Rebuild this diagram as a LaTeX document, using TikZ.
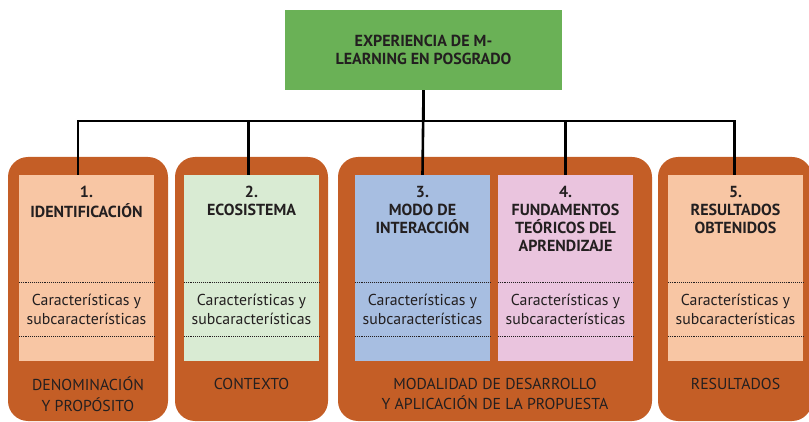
\documentclass[tikz,border=0pt]{standalone}
\usepackage{fontspec}
\setmainfont{PT Sans}
\usetikzlibrary{positioning}
\definecolor{rust}{RGB}{196,94,38}
\definecolor{peach}{RGB}{248,198,164}
\definecolor{mint}{RGB}{217,235,211}
\definecolor{softblue}{RGB}{167,190,225}
\definecolor{softpink}{RGB}{234,196,222}
\definecolor{leafgreen}{RGB}{106,177,86}
\definecolor{ink}{RGB}{35,31,32}
\tikzset{outerbox/.style={fill=rust, rounded corners=20pt},
innerbox/.style={rectangle, minimum width=135pt, minimum height=186pt, inner sep=0pt},
headbox/.style={rectangle, fill=leafgreen, minimum width=277pt, minimum height=80pt, align=center, text=ink, font=\fontsize{16}{18}\selectfont\bfseries}}

\begin{document}
\begin{tikzpicture}[
        x=1pt, y=-1pt,
        titletext/.style={inner sep=0pt, align=center, text=ink, font=\fontsize{16}{18}\selectfont\bfseries},
        bodytext/.style={inner sep=0pt, align=center, text=ink, font=\fontsize{15.8}{19}\selectfont},
        foottext/.style={inner sep=0pt, align=center, text=ink, anchor=north, font=\fontsize{15.8}{18}\selectfont},
        sepline/.style={ink, densely dotted, line width=0.9pt},
        link/.style={black, line width=2.6pt}
    ]
        \useasboundingbox (0,0) rectangle (809,422);
        % Groups
        \fill[outerbox] (8,157) rectangle (168,421);
        \fill[outerbox] (175,157) rectangle (328,421);
        \fill[outerbox] (338,157) rectangle (652,421);
        \fill[outerbox] (658,157) rectangle (812,421);
        % Head
        \node[headbox] (top) at (423.5,50) {EXPERIENCIA DE M-\\LEARNING EN POSGRADO};
        % Columns
        \node[innerbox, fill=peach] (t1) at (86.5,268) {};
        \node[innerbox, fill=mint] (t2) at (251.5,268) {};
        \node[innerbox, fill=softblue] (t3) at (422.5,268) {};
        \node[innerbox, fill=softpink] (t4) at (565.5,268) {};
        \node[innerbox, fill=peach] (t5) at (735.5,268) {};
        % Column titles
        \node[titletext, below=10pt of t1.north, anchor=north] (h1) {\strut 1.\\IDENTIFICACIÓN};
        \node[titletext, below=10pt of t2.north, anchor=north] (h2) {\strut 2.\\ECOSISTEMA};
        \node[titletext, below=10pt of t3.north, anchor=north] (h3) {\strut 3.\\MODO DE\\INTERACCIÓN};
        \node[titletext, below=10pt of t4.north, anchor=north] (h4) {\strut 4.\\FUNDAMENTOS\\TEÓRICOS DEL\\APRENDIZAJE};
        \node[titletext, below=10pt of t5.north, anchor=north] (h5) {\strut 5.\\RESULTADOS\\OBTENIDOS};
        % Separators and features
        \foreach \t in {t1,t2,t3,t4,t5} {
            \draw[sepline] ([yshift=-14pt]\t.west) -- ([yshift=-14pt]\t.east);
            \draw[sepline] ([yshift=-68pt]\t.west) -- ([yshift=-68pt]\t.east);
            \node[bodytext] (c\t) at ([yshift=-41pt]\t.center) {Características y\\subcaracterísticas};
        }
        % Footers
        \node[foottext] (f1) at (88,377) {\strut DENOMINACIÓN\\Y PROPÓSITO};
        \node[foottext] (f2) at (251.5,377) {\strut CONTEXTO};
        \node[foottext] (f3) at (495,377) {\strut MODALIDAD DE DESARROLLO\\Y APLICACIÓN DE LA PROPUESTA};
        \node[foottext] (f5) at (735.5,377) {\strut RESULTADOS};
        % Links
        \draw[link] (top.south) -- ++(0,31) -| ([xshift=-8.5pt]t1.north);
        \draw[link] (top.south) -- ++(0,31) -| ([xshift=-3pt]t2.north);
        \draw[link] (top.south) -- (t3.north);
        \draw[link] (top.south) -- ++(0,31) -| (t4.north);
        \draw[link] (top.south) -- ++(0,31) -| ([xshift=-1pt]t5.north);
    \end{tikzpicture}
\end{document}
